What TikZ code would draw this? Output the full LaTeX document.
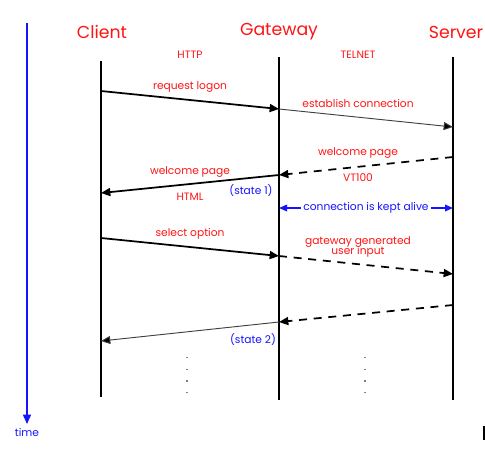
\documentclass[tikz,border=0pt]{standalone}
\usepackage{fontspec}
\setmainfont{Poppins}
\usetikzlibrary{arrows.meta}
\definecolor{tred}{RGB}{255,20,20}
\definecolor{tblue}{RGB}{20,20,255}
\tikzset{
  title/.style={text=tred,font=\fontsize{13}{14}\selectfont,inner sep=0pt},
  lbl/.style={text=tred,font=\fontsize{8}{9}\selectfont,inner sep=1pt},
  blbl/.style={text=tblue,font=\fontsize{8}{9}\selectfont,inner sep=1pt},
  life/.style={line width=1.3pt,black},
  msg/.style={line width=1.3pt,black,-{Triangle[length=7pt,width=6pt]}},
  thinmsg/.style={line width=0.7pt,black!75,-{Triangle[length=7pt,width=6pt,fill=black]}},
  dmsg/.style={msg,dash pattern=on 6pt off 5pt},
  dotline/.style={gray,line width=0.8pt,dash pattern=on 0.8pt off 8pt},
}
\begin{document}
\begin{tikzpicture}[x=0.75pt,y=-0.75pt]
\useasboundingbox (0,0) rectangle (485,454);
% time axis
\coordinate (t0) at (27,23);
\coordinate (t1) at (27,424);
\draw[tblue,line width=1.1pt,-{Triangle[length=7pt,width=6pt]}] (t0) -- (t1);
\node[blbl,anchor=north] (time) at (27,427) {time};
% titles
\node[title] (client) at (102,32) {Client};
\node[title] (gateway) at (279,32) {Gateway};
\node[title] (server) at (456,32) {Server};
\node[lbl] (http) at (190,55) {HTTP};
\node[lbl] (telnet) at (358,55) {TELNET};
% lifelines
\coordinate (c0) at (101,61); \coordinate (c1) at (101,397);
\coordinate (g0) at (279,57); \coordinate (g1) at (279,400);
\coordinate (s0) at (453,57); \coordinate (s1) at (453,400);
\draw[life] (c0) -- (c1);
\draw[life] (g0) -- (g1);
\draw[life] (s0) -- (s1);
% message points
\coordinate (c91) at (101,91);  \coordinate (g109) at (279,109);
\coordinate (s127) at (453,127);
\coordinate (s157) at (453,157); \coordinate (g175) at (279,175);
\coordinate (c193) at (101,193);
\coordinate (g208) at (279,208); \coordinate (s208) at (453,208);
\coordinate (c238) at (101,238); \coordinate (g256) at (279,256);
\coordinate (s274) at (453,274);
\coordinate (s305) at (453,305); \coordinate (g322) at (279,322);
\coordinate (c341) at (101,341);
% messages
\draw[msg] (c91) -- (g109);
\node[lbl] (l1) at (190,87) {request logon};
\draw[thinmsg] (g109) -- (s127);
\node[lbl] (l2) at (358,103) {establish connection};
\draw[dmsg] (s157) -- (g175);
\node[lbl] (l3) at (358,153) {welcome page};
\node[lbl] (l3b) at (358,178) {VT100};
\draw[msg] (g175) -- (c193);
\node[lbl] (l4) at (190,172) {welcome page};
\node[lbl] (l4b) at (190,197) {HTML};
\node[blbl] (st1) at (251,191) {(state 1)};
\draw[tblue,line width=0.9pt,{Triangle[length=6pt,width=5pt]}-{Triangle[length=6pt,width=5pt]}] (g208) -- (s208);
\node[blbl,fill=white,inner xsep=2pt] (alive) at (366,208) {connection is kept alive};
\draw[msg] (c238) -- (g256);
\node[lbl] (l5) at (190,234) {select option};
\draw[dmsg] (g256) -- (s274);
\node[lbl,align=center] (l6) at (358,247) {gateway generated\\[-2pt]user input};
\draw[dmsg] (s305) -- (g322);
\draw[thinmsg] (g322) -- (c341);
\node[blbl] (st2) at (253,340) {(state 2)};
% dotted continuation
\coordinate (d1a) at (187,357); \coordinate (d1b) at (187,402);
\coordinate (d2a) at (365,357); \coordinate (d2b) at (365,402);
\draw[dotline] (d1a) -- (d1b);
\draw[dotline] (d2a) -- (d2b);
% edge mark
\coordinate (e0) at (484,426); \coordinate (e1) at (484,440);
\draw[line width=0.8pt] (e0) -- (e1);
\end{tikzpicture}
\end{document}
